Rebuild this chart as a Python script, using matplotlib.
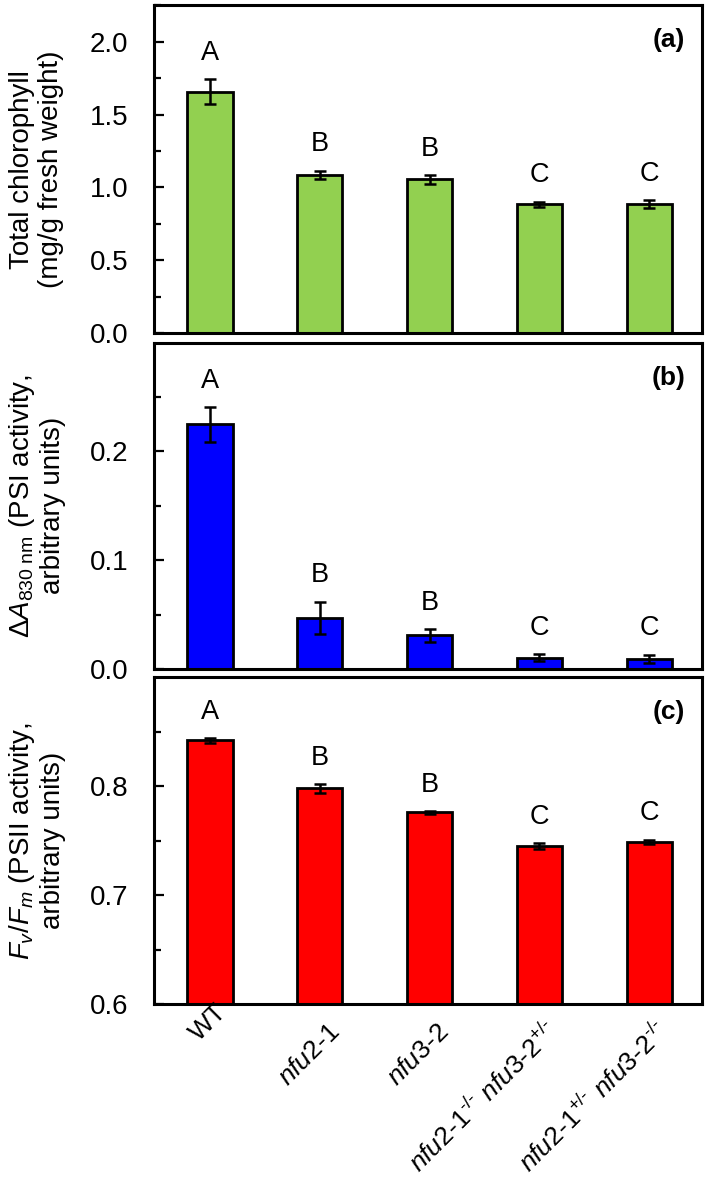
import numpy as np
import matplotlib
matplotlib.use('Agg')
from matplotlib import pyplot as plt

plt.rcParams['font.family'] = ['Liberation Sans', 'DejaVu Sans']
plt.rcParams['mathtext.fontset'] = 'custom'
plt.rcParams['mathtext.rm'] = 'Liberation Sans'
plt.rcParams['mathtext.it'] = 'Liberation Sans:italic'
plt.rcParams['mathtext.bf'] = 'Liberation Sans:bold'

# 数据
genotypes = [r'WT', r'$\mathit{nfu2}\text{-}\mathit{1}$', r'$\mathit{nfu3}\text{-}\mathit{2}$',
             r'$\mathit{nfu2}\text{-}\mathit{1}^{\text{-/-}}\ \mathit{nfu3}\text{-}\mathit{2}^{\text{+/-}}$',
             r'$\mathit{nfu2}\text{-}\mathit{1}^{\text{+/-}}\ \mathit{nfu3}\text{-}\mathit{2}^{\text{-/-}}$']
chl = [1.657, 1.085, 1.056, 0.884, 0.884]
chl_err = [0.087, 0.03, 0.03, 0.018, 0.029]
psi = [0.225, 0.047, 0.031, 0.0104, 0.0092]
psi_err = [0.016, 0.015, 0.006, 0.003, 0.004]
fvfm = [0.842, 0.798, 0.776, 0.745, 0.749]
fvfm_err = [0.002, 0.004, 0.0015, 0.003, 0.002]
letters = ['A', 'B', 'B', 'C', 'C']

panels = [
    (chl, chl_err, '#92d050', (0, 2.25), [0, 0.5, 1.0, 1.5, 2.0], np.arange(0.25, 2.3, 0.5),
     'Total chlorophyll\n(mg/g fresh weight)', '(a)'),
    (psi, psi_err, '#0000ff', (0, 0.3), [0, 0.1, 0.2], [0.05, 0.15, 0.25],
     '$\\mathit{\u0394A}_{\\mathrm{830\\ nm}}$ (PSI activity,\narbitrary units)', '(b)'),
    (fvfm, fvfm_err, '#ff0000', (0.6, 0.9), [0.6, 0.7, 0.8], [0.65, 0.75, 0.85],
     '$\\mathit{F_v/F_m}$ (PSII activity,\narbitrary units)', '(c)'),
]

fig = plt.figure(figsize=(7.09, 11.83), dpi=100)
boxes = [(0.9955, 0.7185), (0.7103, 0.4345), (0.4275, 0.1511)]
left, right = 0.2172, 0.990
x = np.arange(len(genotypes))

for i, (vals, errs, col, ylim, majors, minors, ylab, tag) in enumerate(panels):
    top, bot = boxes[i]
    ax = fig.add_axes([left, bot, right - left, top - bot])
    ax.bar(x, np.array(vals) - ylim[0], bottom=ylim[0], width=0.41, color=col,
           edgecolor='black', linewidth=2, zorder=2)
    ax.errorbar(x, vals, yerr=errs, fmt='none', ecolor='black', elinewidth=1.8,
                capsize=4.5, capthick=1.8, zorder=3)
    for xi, v, e, l in zip(x, vals, errs, letters):
        ax.annotate(l, (xi, v + e), xytext=(0, 9.5), textcoords='offset points',
                    ha='center', va='bottom', fontsize=19.5)
    ax.set_xlim(-0.51, 4.48)
    ax.set_ylim(*ylim)
    ax.set_yticks(majors)
    ax.set_yticks(minors, minor=True)
    ax.set_yticklabels(['{:.1f}'.format(m) for m in majors])
    ax.tick_params(axis='y', which='major', direction='in', length=7, width=1.6,
                   labelsize=20, pad=18.5)
    ax.tick_params(axis='y', which='minor', direction='in', length=5, width=1.6)
    for s in ax.spines.values():
        s.set_linewidth(2.2)
    ax.text(-0.215, 0.5, ylab, transform=ax.transAxes, rotation=90, ha='center',
            va='center', fontsize=20, linespacing=1.15, multialignment='center')
    ax.text(0.97, 0.893, tag, transform=ax.transAxes, ha='right', va='center',
            fontsize=19, fontweight='bold')
    ax.set_xticks([])
    if i == 2:
        for j, (xi, g) in enumerate(zip(x, genotypes)):
            dx, dy = (13, -6) if j == 0 else (15, -21)
            ax.annotate(g, (xi, 0), xycoords=('data', 'axes fraction'),
                        xytext=(dx, dy), textcoords='offset points',
                        rotation=45, ha='right', va='baseline',
                        rotation_mode='anchor', fontsize=19)

fig.savefig('out.png', dpi=100)
